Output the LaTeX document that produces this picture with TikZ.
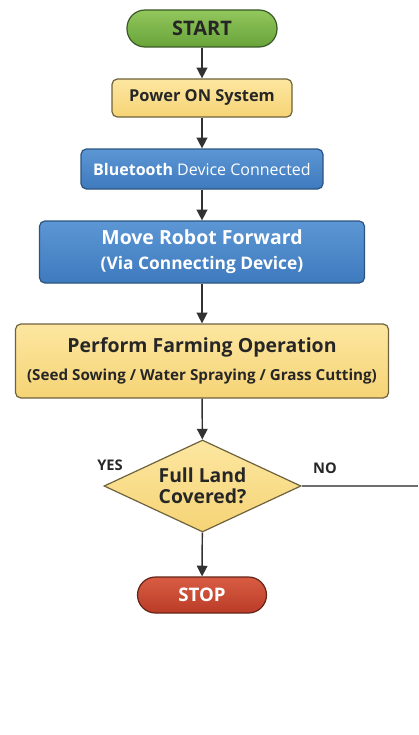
\documentclass[tikz,border=0pt]{standalone}
\usepackage{fontspec}
\setmainfont{Open Sans}
\usetikzlibrary{shapes.geometric,arrows.meta}

\definecolor{startTop}{RGB}{146,199,92}
\definecolor{startBot}{RGB}{104,163,58}
\definecolor{startLine}{RGB}{58,88,40}
\definecolor{yellowTop}{RGB}{252,230,160}
\definecolor{yellowBot}{RGB}{246,212,118}
\definecolor{yellowLine}{RGB}{110,98,60}
\definecolor{blueTop}{RGB}{92,150,212}
\definecolor{blueBot}{RGB}{62,122,190}
\definecolor{blueLine}{RGB}{44,84,128}
\definecolor{stopTop}{RGB}{216,92,66}
\definecolor{stopBot}{RGB}{186,60,40}
\definecolor{stopLine}{RGB}{100,36,24}
\definecolor{darkText}{RGB}{38,38,38}
\definecolor{arrowGray}{RGB}{50,50,50}

\tikzset{
  terminal/.style={rounded corners=13.5pt, draw, line width=0.9pt, align=center, font=\bfseries},
  process/.style={rounded corners=4pt, draw, line width=0.9pt, align=center},
  decision/.style={diamond, aspect=2.1, draw=yellowLine, line width=0.9pt, top color=yellowTop, bottom color=yellowBot, inner sep=0pt, align=center, text=darkText, font=\bfseries\fontsize{14.5}{15.8}\selectfont},
  flowarrow/.style={draw=arrowGray, line width=1.1pt, -{Triangle[length=8pt,width=8pt]}},
  branch/.style={font=\bfseries\fontsize{11}{12}\selectfont, text=darkText}
}

\begin{document}
\begin{tikzpicture}[x=0.75pt,y=0.75pt,yscale=-1,xscale=1]
%set diagram left start at 0, and has height of 735
\path [use as bounding box] (0,0) rectangle (418,735);

%Terminal: start
\node [terminal, draw=startLine, top color=startTop, bottom color=startBot, text=darkText, minimum width=112.5pt, minimum height=27.75pt, font=\bfseries\fontsize{15}{16}\selectfont] (start) at (202,28.5) {START};
%Process: power
\node [process, draw=yellowLine, top color=yellowTop, bottom color=yellowBot, text=darkText, minimum width=135pt, minimum height=28.5pt, font=\bfseries\fontsize{12.3}{14}\selectfont] (power) at (202,98) {Power ON System};
%Process: bluetooth
\node [process, draw=blueLine, top color=blueTop, bottom color=blueBot, text=white, minimum width=181.5pt, minimum height=30pt, font=\fontsize{12}{14}\selectfont] (bluetooth) at (202,169) {\textbf{Bluetooth} Device Connected};
%Process: move
\node [process, draw=blueLine, top color=blueTop, bottom color=blueBot, text=white, minimum width=243.75pt, minimum height=46.5pt, font=\bfseries\fontsize{14.6}{18.5}\selectfont] (move) at (202,252) {Move Robot Forward\\{\fontsize{13}{16}\selectfont (Via Connecting Device)}};
%Process: farming
\node [process, draw=yellowLine, top color=yellowTop, bottom color=yellowBot, text=darkText, minimum width=279.75pt, minimum height=55.5pt, font=\bfseries\fontsize{14.6}{20.5}\selectfont] (farming) at (202,361) {Perform Farming Operation\\{\fontsize{11.4}{14}\selectfont (Seed Sowing / Water Spraying / Grass Cutting)}};
%Decision
\node [decision, minimum width=147.75pt, minimum height=69pt] (covered) at (202.5,486) {Full Land\\Covered?};
%Terminal: stop
\node [terminal, draw=stopLine, top color=stopTop, bottom color=stopBot, text=white, minimum width=96.75pt, minimum height=27pt, font=\bfseries\fontsize{14}{15}\selectfont] (stop) at (202,595) {STOP};

%Branch labels
\node [branch] (yes) at (110,465) {YES};
\node [branch] (no) at (325,468) {NO};
\coordinate (noEnd) at (418,486);

%Connectors
\draw [flowarrow] (start) -- (power);
\draw [flowarrow] (power) -- (bluetooth);
\draw [flowarrow] (bluetooth) -- (move);
\draw [flowarrow] (move) -- (farming);
\draw [flowarrow] (farming) -- (covered);
\draw [flowarrow] (covered) -- (stop);
\draw [draw={rgb,255:red,110;green,110;blue,110}, line width=0.8pt] (covered.east) -- (noEnd);

\end{tikzpicture}
\end{document}
